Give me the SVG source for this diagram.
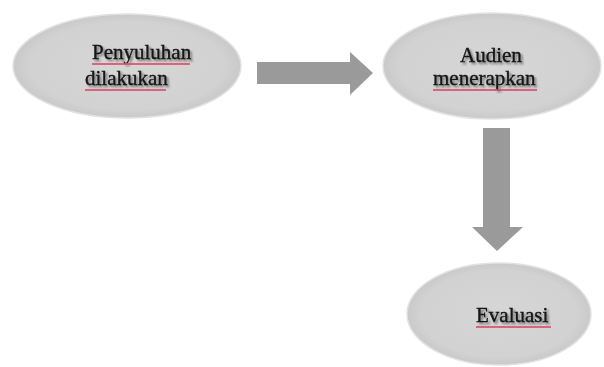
<svg xmlns="http://www.w3.org/2000/svg" width="604" height="367" viewBox="0 0 604 367">
  <defs>
    <radialGradient id="g" cx="50%" cy="50%" r="50%">
      <stop offset="0%" stop-color="#d6d6d6"/>
      <stop offset="85%" stop-color="#d2d2d2"/>
      <stop offset="100%" stop-color="#c9c9c9"/>
    </radialGradient>
    <filter id="sh" x="-10%" y="-30%" width="130%" height="160%">
      <feGaussianBlur in="SourceAlpha" stdDeviation="0.8"/>
      <feOffset dx="1.5" dy="1.5" result="b"/>
      <feComponentTransfer><feFuncA type="linear" slope="0.45"/></feComponentTransfer>
      <feMerge><feMergeNode/><feMergeNode in="SourceGraphic"/></feMerge>
    </filter>
  </defs>
  <style>
    .node ellipse { fill: url(#g); stroke: #e2e2e2; stroke-width: 1.5; }
    .label { font-family: "Liberation Serif", "Times New Roman", serif; font-size: 21px; fill: #141414; stroke: #141414; stroke-width: 0.35; filter: url(#sh); }
    .squig { stroke: #d9506c; stroke-width: 1.8; fill: none; opacity: 0.85; }
    .arrow { fill: #9a9a9a; }
  </style>
  <rect width="604" height="367" fill="#ffffff"/>
  <g id="connectors">
    <polygon class="arrow" points="257,62 350,62 350,52 373,73 350,95 350,84 257,84"/>
    <polygon class="arrow" points="483,128 510,128 510,227 523,227 497,251 472,227 483,227"/>
  </g>
  <g id="node-penyuluhan" class="node">
    <ellipse cx="127" cy="66" rx="114" ry="52"/>
    <text class="label" x="92" y="59">Penyuluhan</text>
    <text class="label" x="85" y="85">dilakukan</text>
    <path class="squig" d="M92,64 H190"/>
    <path class="squig" d="M85,90 H166"/>
  </g>
  <g id="node-audien" class="node">
    <ellipse cx="492" cy="66" rx="109" ry="53"/>
    <text class="label" x="460" y="62">Audien</text>
    <text class="label" x="433" y="85">menerapkan</text>
    <path class="squig" d="M433,90 H537"/>
  </g>
  <g id="node-evaluasi" class="node">
    <ellipse cx="499" cy="314" rx="92" ry="51"/>
    <text class="label" x="476" y="322">Evaluasi</text>
    <path class="squig" d="M476,327 H551"/>
  </g>
</svg>
